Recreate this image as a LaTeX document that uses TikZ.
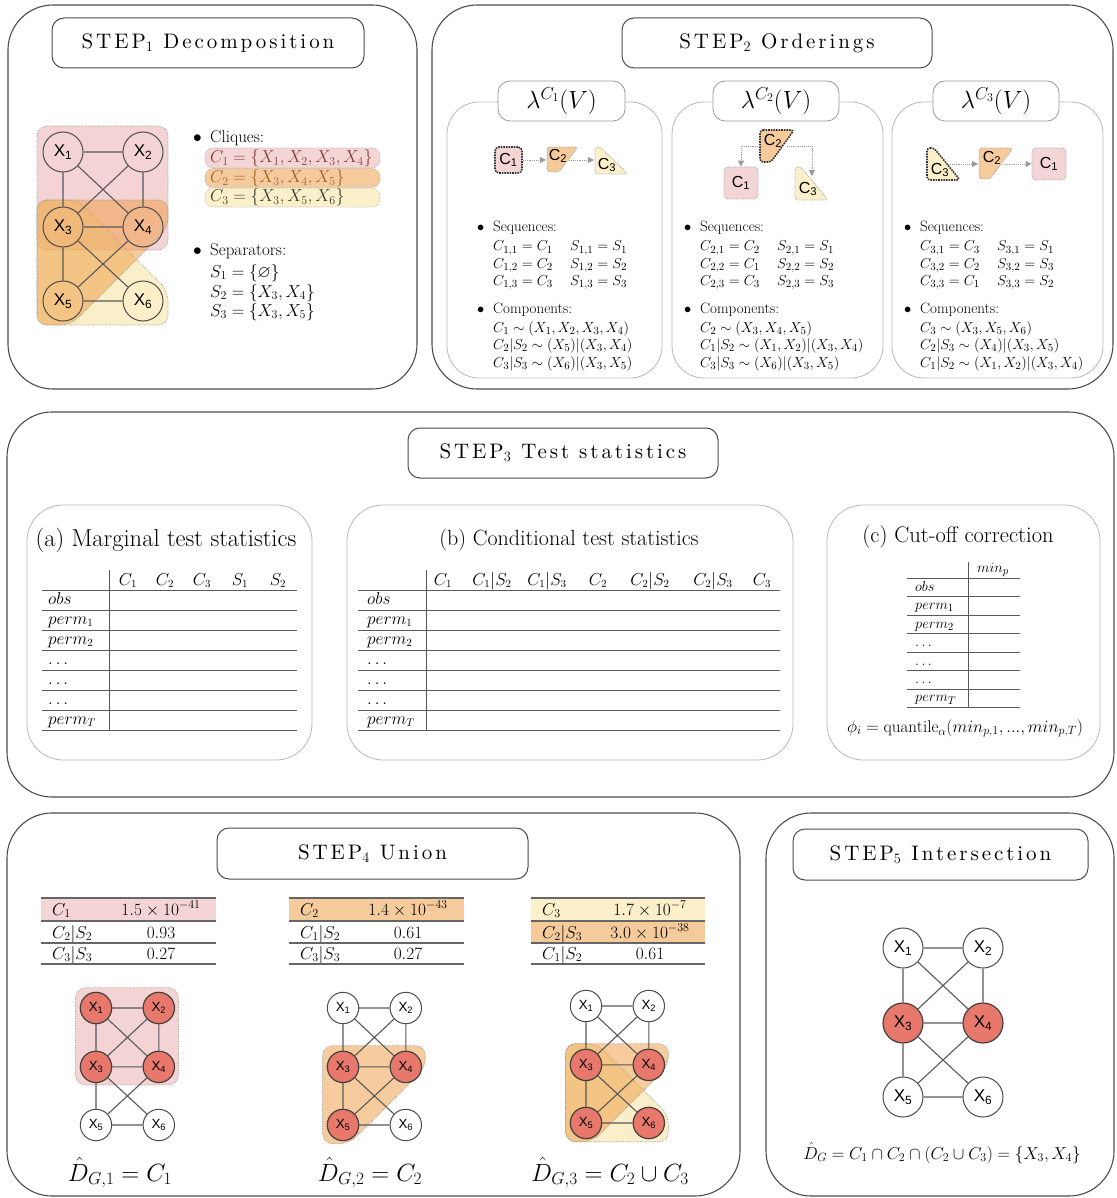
\documentclass[tikz,border=0pt]{standalone}
\usepackage{amsmath,amssymb}
\usepackage{fontspec}
\newfontfamily\gf{Liberation Sans}
\newfontfamily\ttlfont{lmroman10-regular.otf}[LetterSpace=14]
\usetikzlibrary{arrows.meta}
\definecolor{pinkF}{HTML}{F4D5D5}
\definecolor{orangeF}{HTML}{F6CB9C}
\definecolor{yellowF}{HTML}{FBF0C9}
\definecolor{pinkR}{HTML}{E8A8A8}
\definecolor{orangeR}{HTML}{EE9A40}
\definecolor{yellowR}{HTML}{F7E093}
\definecolor{nodered}{HTML}{E8776C}
\definecolor{cAtxt}{HTML}{8A3A3A}
\definecolor{cBtxt}{HTML}{A0622A}
\definecolor{cCtxt}{HTML}{3A3A30}
\newcommand\sixgraph[7]{%
 \node[gnode,#2] (#1a) at (0,0) {X\textsubscript{1}};
 \node[gnode,#3] (#1b) at (80,0) {X\textsubscript{2}};
 \node[gnode,#4] (#1c) at (0,75) {X\textsubscript{3}};
 \node[gnode,#5] (#1d) at (80,75) {X\textsubscript{4}};
 \node[gnode,#6] (#1e) at (0,149) {X\textsubscript{5}};
 \node[gnode,#7] (#1f) at (80,149) {X\textsubscript{6}};
 \draw[gedge] (#1a)--(#1b) (#1a)--(#1c) (#1a)--(#1d) (#1b)--(#1c) (#1b)--(#1d)
   (#1c)--(#1d) (#1c)--(#1e) (#1c)--(#1f) (#1d)--(#1e) (#1e)--(#1f);}
\newcommand\regA{\path[region,fill=pinkR] (-26,-26) rectangle (105,98);}
\newcommand\regB{\path[region,fill=orangeR] (-26,48) -- (105,48) -- (105,76) -- (8,173) -- (-26,173) -- cycle;}
\newcommand\regC{\path[region,fill=yellowR] (-26,48) -- (14,48) -- (105,139) -- (105,173) -- (-26,173) -- cycle;}
\begin{document}
\begin{tikzpicture}[x=1pt,y=-1pt,
 panel/.style={draw=black!70,line width=1.1pt,rounded corners=45pt},
 tbox/.style={draw=black!70,line width=1pt,rounded corners=12pt,fill=white,inner sep=0pt,
   font=\ttlfont\fontsize{21}{25}\selectfont},
 subp/.style={draw=black!28,line width=0.8pt,rounded corners=32pt},
 subt/.style={draw=black!40,line width=0.8pt,rounded corners=12pt,fill=white,inner sep=0pt,
   font=\fontsize{26}{30}\selectfont},
 gnode/.style={circle,draw=black!70,line width=1pt,minimum size=40pt,inner sep=0pt,
   font=\gf\fontsize{17}{17}\selectfont},
 rn/.style={fill=nodered,draw=black!75,line width=1.2pt},
 wn/.style={fill=white},
 gedge/.style={draw=black!65,line width=1.1pt},
 region/.style={draw=black!40,densely dotted,line width=0.7pt,rounded corners=10pt,fill opacity=0.5},
 band/.style={draw=black!35,densely dotted,line width=0.6pt,rounded corners=8pt},
 st/.style={font=\fontsize{17}{20}\selectfont,inner sep=0pt,anchor=base west},
 s2t/.style={font=\fontsize{15}{18}\selectfont,inner sep=0pt,anchor=base west},
 tt/.style={font=\fontsize{16}{19}\selectfont,inner sep=0pt},
 t4/.style={font=\fontsize{18}{21}\selectfont,inner sep=0pt},
 rl/.style={draw=black!65,line width=0.9pt},
 rl4/.style={draw=black!60,line width=1.3pt},
 lbl/.style={font=\gf\fontsize{16}{16}\selectfont,inner sep=0pt},
 shp/.style={draw=black!35,densely dotted,line width=0.8pt,rounded corners=3pt},
 root/.style={draw=black!80,densely dotted,line width=1.6pt},
 light/.style={draw=black!35,densely dotted,line width=0.8pt},
 arr/.style={draw=black!40,densely dotted,line width=0.9pt,-{Triangle[length=6pt,width=6pt]}}
]
\useasboundingbox (0,0) rectangle (1116,1198);
% ---------- panels
\draw[panel] (8,5) rectangle (417,389);
\draw[panel] (432,5) rectangle (1113,389);
\draw[panel] (7,412) rectangle (1114,797);
\draw[panel] (7,813) rectangle (740,1196);
\draw[panel] (766,813) rectangle (1114,1196);
\node[tbox,minimum width=312pt,minimum height=50pt] (t1) at (208,43) {STEP$_1$ Decomposition};
\node[tbox,minimum width=310pt,minimum height=50pt] (t2) at (777,43) {STEP$_2$ Orderings};
\node[tbox,minimum width=310pt,minimum height=50pt] (t3) at (563,453) {STEP$_3$ Test statistics};
\node[tbox,minimum width=311pt,minimum height=51pt] (t4) at (372.5,853.5) {STEP$_4$ Union};
\node[tbox,minimum width=295pt,minimum height=51pt] (t5) at (940.5,854.5) {STEP$_5$ Intersection};
% ---------- STEP 1
\begin{scope}[shift={(63,152)}]
 \regA \regC \regB
 \sixgraph{g}{}{}{}{}{}{}
\end{scope}
\node[st] (cl) at (193,143) {\makebox[17pt][l]{$\bullet$}Cliques:};
\path[band,fill=pinkF] (205,148) rectangle (380,168);
\node[st,text=cAtxt] (cla) at (210,163) {$C_1=\{X_1,X_2,X_3,X_4\}$};
\path[band,fill=orangeF] (205,168.5) rectangle (380,187.5);
\node[st,text=cBtxt] (clb) at (210,183) {$C_2=\{X_3,X_4,X_5\}$};
\path[band,fill=yellowF] (205,188) rectangle (380,207);
\node[st,text=cCtxt] (clc) at (210,202) {$C_3=\{X_3,X_5,X_6\}$};
\node[st] (sep) at (193,255) {\makebox[17pt][l]{$\bullet$}Separators:};
\node[st] (sa) at (210,277) {$S_1=\{\varnothing\}$};
\node[st] (sb) at (210,297) {$S_2=\{X_3,X_4\}$};
\node[st] (sc) at (210,316) {$S_3=\{X_3,X_5\}$};
% ---------- STEP 2 sub panels
\draw[subp] (447,102) rectangle (662,378);
\draw[subp] (672,102) rectangle (883,378);
\draw[subp] (892,102) rectangle (1103,378);
\node[subt,minimum width=127pt,minimum height=40pt] (l1) at (561.5,101) {$\lambda^{C_1}(V)$};
\node[subt,minimum width=126pt,minimum height=40pt] (l2) at (776,101) {$\lambda^{C_2}(V)$};
\node[subt,minimum width=126pt,minimum height=40pt] (l3) at (996,101) {$\lambda^{C_3}(V)$};
% panel 1 shapes
\node[rectangle,rounded corners=4pt,minimum width=27pt,minimum height=26pt,fill=pinkF,root,lbl] (pAc1) at (508.5,160) {C\textsubscript{1}};
\path[shp,fill=orangeF] (547,147) -- (578,147) -- (559,172) -- (547,172) -- cycle;
\node[lbl] (pAc2) at (558,156) {C\textsubscript{2}};
\path[shp,fill=yellowF] (595,147) -- (600,147) -- (628,174) -- (595,174) -- cycle;
\node[lbl] (pAc3) at (607,165) {C\textsubscript{3}};
\coordinate (pAi2) at (546,160);
\coordinate (pAo2) at (569,160);
\coordinate (pAi3) at (594,160);
\draw[arr] (pAc1.east) -- (pAi2);
\draw[arr] (pAo2) -- (pAi3);
% panel 2 shapes
\path[root,rounded corners=3pt,fill=orangeF] (760,130) -- (794,130) -- (771,162) -- (760,162) -- cycle;
\node[lbl] (pBc2) at (773,141) {C\textsubscript{2}};
\node[rectangle,rounded corners=4pt,minimum width=34pt,minimum height=32pt,fill=pinkF,light,lbl] (pBc1) at (741,183) {C\textsubscript{1}};
\path[shp,fill=yellowF] (795,167) -- (801,167) -- (828,200) -- (795,200) -- cycle;
\node[lbl] (pBc3) at (808,189) {C\textsubscript{3}};
\coordinate (pBl) at (760,146);
\coordinate (pBr) at (787,146);
\coordinate (pBt3) at (812,176);
\draw[arr] (pBl) -| (pBc1.north);
\draw[arr] (pBr) -| (pBt3);
% panel 3 shapes
\path[root,rounded corners=3pt,fill=yellowF] (927,148) -- (934,148) -- (960,180) -- (927,180) -- cycle;
\node[lbl] (pCc3) at (940,170) {C\textsubscript{3}};
\path[shp,fill=orangeF] (979,148) -- (1013,148) -- (990,179) -- (979,179) -- cycle;
\node[lbl] (pCc2) at (992,158) {C\textsubscript{2}};
\node[rectangle,rounded corners=4pt,minimum width=34pt,minimum height=32pt,fill=pinkF,light,lbl] (pCc1) at (1049,164) {C\textsubscript{1}};
\coordinate (pCo3) at (948,164);
\coordinate (pCi2) at (978,164);
\coordinate (pCo2) at (1003,164);
\draw[arr] (pCo3) -- (pCi2);
\draw[arr] (pCo2) -- (pCc1.west);
% panel texts
\node[s2t] (qa1) at (477,232) {\makebox[16pt][l]{$\bullet$}Sequences:};
\node[s2t] (qa2) at (493,251) {\makebox[77pt][l]{$C_{1,1}=C_1$}$S_{1,1}=S_1$};
\node[s2t] (qa3) at (493,268) {\makebox[77pt][l]{$C_{1,2}=C_2$}$S_{1,2}=S_2$};
\node[s2t] (qa4) at (493,285) {\makebox[77pt][l]{$C_{1,3}=C_3$}$S_{1,3}=S_3$};
\node[s2t] (qa5) at (477,313) {\makebox[16pt][l]{$\bullet$}Components:};
\node[s2t] (qa6) at (493,332) {$C_1\sim(X_1,X_2,X_3,X_4)$};
\node[s2t] (qa7) at (493,349) {$C_2|S_2\sim(X_5)|(X_3,X_4)$};
\node[s2t] (qa8) at (493,367) {$C_3|S_3\sim(X_6)|(X_3,X_5)$};
\node[s2t] (qb1) at (684,232) {\makebox[16pt][l]{$\bullet$}Sequences:};
\node[s2t] (qb2) at (700,251) {\makebox[77pt][l]{$C_{2,1}=C_2$}$S_{2,1}=S_1$};
\node[s2t] (qb3) at (700,268) {\makebox[77pt][l]{$C_{2,2}=C_1$}$S_{2,2}=S_2$};
\node[s2t] (qb4) at (700,285) {\makebox[77pt][l]{$C_{2,3}=C_3$}$S_{2,3}=S_3$};
\node[s2t] (qb5) at (684,313) {\makebox[16pt][l]{$\bullet$}Components:};
\node[s2t] (qb6) at (700,332) {$C_2\sim(X_3,X_4,X_5)$};
\node[s2t] (qb7) at (700,349) {$C_1|S_2\sim(X_1,X_2)|(X_3,X_4)$};
\node[s2t] (qb8) at (700,367) {$C_3|S_3\sim(X_6)|(X_3,X_5)$};
\node[s2t] (qc1) at (904,232) {\makebox[16pt][l]{$\bullet$}Sequences:};
\node[s2t] (qc2) at (920,251) {\makebox[77pt][l]{$C_{3,1}=C_3$}$S_{3,1}=S_1$};
\node[s2t] (qc3) at (920,268) {\makebox[77pt][l]{$C_{3,2}=C_2$}$S_{3,2}=S_3$};
\node[s2t] (qc4) at (920,285) {\makebox[77pt][l]{$C_{3,3}=C_1$}$S_{3,3}=S_2$};
\node[s2t] (qc5) at (904,313) {\makebox[16pt][l]{$\bullet$}Components:};
\node[s2t] (qc6) at (920,332) {$C_3\sim(X_3,X_5,X_6)$};
\node[s2t] (qc7) at (920,349) {$C_2|S_3\sim(X_4)|(X_3,X_5)$};
\node[s2t] (qc8) at (920,367) {$C_1|S_2\sim(X_1,X_2)|(X_3,X_4)$};
% ---------- STEP 3
\draw[subp,rounded corners=36pt] (27,505) rectangle (312,760);
\draw[subp,rounded corners=36pt] (347,505) rectangle (793,760);
\draw[subp,rounded corners=36pt] (827,505) rectangle (1100,760);
\node[font=\fontsize{24.5}{28}\selectfont] (ta) at (166,540) {(a) Marginal test statistics};
\node[font=\fontsize{22}{26}\selectfont] (tb) at (569,540) {(b) Conditional test statistics};
\node[font=\fontsize{22.5}{26}\selectfont] (tc) at (958,537) {(c) Cut-off correction};
% table a
\draw[rl] (109,570) -- (109,730);
\foreach \yy in {590,610,...,730} \draw[rl] (42,\yy) -- (297,\yy);
\foreach \hh/\xx [count=\i] in {C_1/128,C_2/165,C_3/202,S_1/240,S_2/278}
  \node[tt,anchor=base] (ah\i) at (\xx,585) {$\hh$};
\foreach \lab [count=\i] in {obs,perm_1,perm_2,\dots,\dots,\dots,perm_T}
  \node[tt,anchor=base west] (ar\i) at (48,{584+20*\i}) {$\lab$};
% table b
\draw[rl] (426,570) -- (426,730);
\foreach \yy in {590,610,...,730} \draw[rl] (358,\yy) -- (780,\yy);
\foreach \hh/\xx [count=\i] in {C_1/443,C_1|S_2/492,C_1|S_3/547,C_2/598,C_2|S_2/650,C_2|S_3/713,C_3/762}
  \node[tt,anchor=base] (bh\i) at (\xx,585) {$\hh$};
\foreach \lab [count=\i] in {obs,perm_1,perm_2,\dots,\dots,\dots,perm_T}
  \node[tt,anchor=base west] (br\i) at (367,{584+20*\i}) {$\lab$};
% table c
\draw[rl] (968,562) -- (968,707);
\foreach \yy in {578,596.5,615,633.5,652,670.5,689,707} \draw[rl] (907,\yy) -- (1020,\yy);
\node[tt,anchor=base,font=\fontsize{15}{18}\selectfont] (ch) at (993,572) {$min_p$};
\foreach \lab [count=\i] in {obs,perm_1,perm_2,\dots,\dots,\dots,perm_T}
  \node[tt,anchor=base west,font=\fontsize{15}{18}\selectfont] (cr\i) at (915,{573+18.4*\i}) {$\lab$};
\node[font=\fontsize{17}{20}\selectfont,anchor=base,inner sep=0pt] (phi) at (965,732)
  {$\phi_i=\mathrm{quantile}_\alpha(min_{p,1},...,min_{p,T})$};
% ---------- STEP 4 tables
\fill[pinkF] (41,898) rectangle (216,921);
\foreach \yy in {898,921,943,964} \draw[rl4] (41,\yy) -- (216,\yy);
\node[t4,anchor=base west] (u1a) at (52,915) {$C_1$};
\node[t4,anchor=base] (u1b) at (161,915) {$1.5\times10^{-41}$};
\node[t4,anchor=base west] (u1c) at (52,938) {$C_2|S_2$};
\node[t4,anchor=base] (u1d) at (161,938) {$0.93$};
\node[t4,anchor=base west] (u1e) at (52,959) {$C_3|S_3$};
\node[t4,anchor=base] (u1f) at (161,959) {$0.27$};
\fill[orangeF] (289,898) rectangle (464,921);
\foreach \yy in {898,921,943,964} \draw[rl4] (289,\yy) -- (464,\yy);
\node[t4,anchor=base west] (u2a) at (300,915) {$C_2$};
\node[t4,anchor=base] (u2b) at (408,915) {$1.4\times10^{-43}$};
\node[t4,anchor=base west] (u2c) at (300,938) {$C_1|S_2$};
\node[t4,anchor=base] (u2d) at (408,938) {$0.61$};
\node[t4,anchor=base west] (u2e) at (300,959) {$C_3|S_3$};
\node[t4,anchor=base] (u2f) at (408,959) {$0.27$};
\fill[yellowF] (531,898) rectangle (705,921);
\fill[orangeF] (531,921) rectangle (705,943);
\foreach \yy in {898,921,943,964} \draw[rl4] (531,\yy) -- (705,\yy);
\node[t4,anchor=base west] (u3a) at (542,915) {$C_3$};
\node[t4,anchor=base] (u3b) at (650,915) {$1.7\times10^{-7}$};
\node[t4,anchor=base west] (u3c) at (542,938) {$C_2|S_3$};
\node[t4,anchor=base] (u3d) at (650,938) {$3.0\times10^{-38}$};
\node[t4,anchor=base west] (u3e) at (542,959) {$C_1|S_2$};
\node[t4,anchor=base] (u3f) at (650,959) {$0.61$};
% STEP 4 graphs
\begin{scope}[shift={(96,1008)},scale=0.785,transform shape]
 \regA
 \sixgraph{h}{rn}{rn}{rn}{rn}{wn}{wn}
\end{scope}
\begin{scope}[shift={(343,1008)},scale=0.785,transform shape]
 \regB
 \sixgraph{i}{wn}{wn}{rn}{rn}{rn}{wn}
\end{scope}
\begin{scope}[shift={(586,1006)},scale=0.785,transform shape]
 \regC \regB
 \sixgraph{j}{wn}{wn}{rn}{rn}{rn}{rn}
\end{scope}
\node[font=\fontsize{23}{27}\selectfont] (d1) at (120,1173) {$\hat D_{G,1}=C_1$};
\node[font=\fontsize{23}{27}\selectfont] (d2) at (370,1173) {$\hat D_{G,2}=C_2$};
\node[font=\fontsize{23}{27}\selectfont] (d3) at (610,1173) {$\hat D_{G,3}=C_2\cup C_3$};
% ---------- STEP 5
\begin{scope}[shift={(903,948)}]
 \sixgraph{k}{wn}{wn}{rn}{rn}{wn}{wn}
\end{scope}
\node[font=\fontsize{17.8}{21}\selectfont] (d5) at (942,1153) {$\hat D_G=C_1\cap C_2\cap(C_2\cup C_3)=\{X_3,X_4\}$};
\end{tikzpicture}
\end{document}
